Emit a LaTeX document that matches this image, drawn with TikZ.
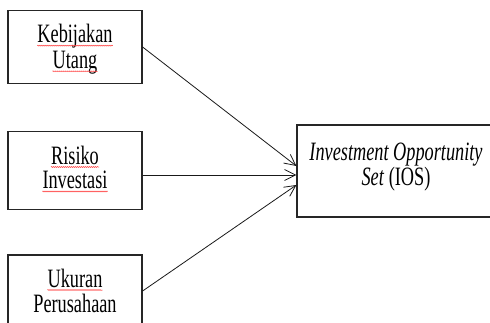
\documentclass[tikz,border=0pt]{standalone}
\usepackage{fontspec}
\setmainfont{Liberation Serif}[FakeStretch=0.69]
\usetikzlibrary{arrows.meta,decorations.pathmorphing,calc}
\begin{document}
\begin{tikzpicture}[x=1pt,y=-1pt,
  box/.style={draw=black!85,line width=1.2pt,rectangle,inner sep=0pt},
  txt/.style={inner sep=0pt,anchor=base,font=\fontsize{26.5pt}{26.5pt}\selectfont,text=black},
  conn/.style={draw=black!90,line width=0.8pt,-{Straight Barb[length=11pt,width=11pt,line width=0.8pt]}},
  spell/.style={draw=red!75,line width=0.5pt,decorate,decoration={snake,segment length=2pt,amplitude=0.5pt}}]
\useasboundingbox (0,0) rectangle (490,322);
\clip (0,0) rectangle (490,322);
% boxes
\node[box,minimum width=134pt,minimum height=72.6pt] (b1) at (75,47) {};
\node[box,minimum width=134pt,minimum height=77.6pt] (b2) at (75,170.5) {};
\node[box,minimum width=134pt,minimum height=85pt] (b3) at (75,297.5) {};
\node[box,minimum width=197pt,minimum height=92pt] (r) at (395.5,171) {};
% texts
\node[txt] (t1a) at (75,42.7) {Kebijakan};
\node[txt] (t1b) at (75,68.3) {Utang};
\node[txt] (t2a) at (75,164) {Risiko};
\node[txt] (t2b) at (75,188.5) {Investasi};
\node[txt] (t3a) at (75,287) {Ukuran};
\node[txt] (t3b) at (75,312) {Perusahaan};
\node[txt,anchor=north,align=center,
      font={\fontsize{26.5pt}{25.6pt}\selectfont\lineskiplimit=-30pt}]
      (rt) at (396,142.5) {\itshape Investment Opportunity\\\textit{Set} (IOS)};
% spell-check underlines
\foreach \n in {t1a,t1b,t2a,t2b,t3a}
  \draw[spell] ([yshift=-3pt]\n.base west) -- ([yshift=-3pt]\n.base east);
% connectors
\draw[conn] (b1.east) -- ([yshift=5pt]r.west);
\draw[conn] ([yshift=-4.5pt]b2.east) -- ([yshift=-4pt]r.west);
\draw[conn] ([yshift=6.5pt]b3.east) -- ([yshift=-14pt]r.west);
\end{tikzpicture}
\end{document}
